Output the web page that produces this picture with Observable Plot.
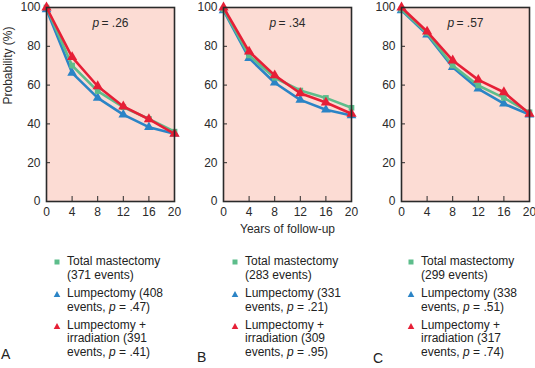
<!DOCTYPE html>
<html><head><meta charset="utf-8">
<script src="https://cdn.jsdelivr.net/npm/d3@7"></script>
<script src="https://cdn.jsdelivr.net/npm/@observablehq/plot@0.6"></script>
<style>
body{margin:0;background:#fff;font-family:"Liberation Sans",Arial,sans-serif;}
#wrap{position:relative;width:535px;height:368px;overflow:hidden;background:#fff}
.panel{position:absolute;top:0}
.legend{position:absolute;top:255px;font-size:12px;line-height:13.8px;color:#222}
.item{position:relative;margin-bottom:4.2px;white-space:nowrap}
.mk{position:absolute;left:-14px;top:3px}
.letter{position:absolute;font-size:14px;color:#222;line-height:14px}
</style></head><body><div id="wrap"></div>
<script>
// ---- data ----
const years = [0, 4, 8, 12, 16, 20];
const panelLetters = ["A", "B", "C"];
const panelP = [".26", ".34", ".57"];
const xTicks = [0, 4, 8, 12, 16, 20];
const yTicks = [0, 20, 40, 60, 80, 100];

const mastA = [100, 70.1, 56.9, 48.6, 42.6, 36.0];
const lumpA = [99, 66.3, 53.4, 44.8, 38.3, 34.9];
const irrA  = [100, 74.4, 59.4, 49.0, 42.4, 34.9];
const mastB = [99, 75.3, 63.8, 57.2, 53.4, 48.3];
const lumpB = [98.5, 73.9, 61.2, 52.4, 47.3, 44.3];
const irrB  = [100, 77.3, 65.0, 55.8, 51.0, 45.2];
const mastC = [99, 86.8, 70.1, 59.8, 53.4, 46.0];
const lumpC = [98.5, 86.0, 69.2, 58.1, 50.4, 44.8];
const irrC  = [100, 87.6, 72.7, 62.7, 56.3, 45.2];

const mastEvents = ["371", "283", "299"];
const lumpEvents = ["331", "331", "338"];
lumpEvents[0] = "408";
const irrEvents = ["391", "309", "317"];
const lumpP = [".47", ".21", ".51"];
const irrP = [".41", ".95", ".74"];

// ---- style ----
const green = "#5dbd8b", blue = "#2b84c6", red = "#e61f36", bg = "#fcdcd4", ink = "#2a2a2a";
const panelLeft = [0, 177, 355];
const legendLeft = [67, 245, 421];
const letterPos = [[1, 347], [197, 350], [373, 351]];

const mast = [mastA, mastB, mastC], lump = [lumpA, lumpB, lumpC], irr = [irrA, irrB, irrC];
const wrap = document.getElementById("wrap");

function rows(vals) { return years.map((yr, j) => ({year: yr, value: vals[j]})); }

for (let i = 0; i < 3; i++) {
  const sers = [
    {rows: rows(lump[i]), color: blue, symbol: "triangle", r: 3.6},
    {rows: rows(mast[i]), color: green, symbol: "square", r: 3.2},
    {rows: rows(irr[i]), color: red, symbol: "triangle", r: 3.8}
  ];
  const marks = [
    Plot.frame({fill: bg}),
    Plot.tickX(xTicks.slice(1, -1), {x: d => d, insetTop: 189, stroke: ink}),
    Plot.tickY(yTicks.slice(1, -1), {y: d => d, insetRight: 124, stroke: ink})
  ];
  for (const s of sers) {
    marks.push(Plot.line(s.rows, {x: "year", y: "value", stroke: s.color, strokeWidth: 2.6}));
    marks.push(Plot.dot(s.rows, {x: "year", y: "value", fill: s.color, symbol: s.symbol, r: s.r}));
  }
  marks.push(Plot.frame({stroke: ink, strokeWidth: 1.6}));
  marks.push(Plot.text(["p"], {text: d => d, frameAnchor: "top", dy: 11, dx: -18, textAnchor: "start", fontStyle: "italic", fill: ink}));
  marks.push(Plot.text(["= " + panelP[i]], {text: d => d, frameAnchor: "top", dy: 11, dx: -9, textAnchor: "start", fill: ink}));
  if (i === 0) marks.push(Plot.text(["Probability (%)"], {text: d => d, frameAnchor: "left", rotate: -90, dx: -38, fill: ink}));
  if (i === 1) marks.push(Plot.text(["Years of follow-up"], {text: d => d, frameAnchor: "bottom", dy: 31, fill: ink}));

  const chart = Plot.plot({
    width: 177, height: 240,
    marginLeft: 46, marginRight: 3, marginTop: 7, marginBottom: 39,
    style: {fontFamily: "'Liberation Sans', Arial, sans-serif", fontSize: "12px", color: ink, background: "transparent", overflow: "visible"},
    x: {domain: [0, 20], ticks: xTicks, tickSize: 0, tickPadding: 6, label: null},
    y: {domain: [0, 100], ticks: yTicks, tickSize: 0, tickPadding: 6, label: null},
    marks
  });
  const div = document.createElement("div");
  div.className = "panel";
  div.style.left = panelLeft[i] + "px";
  div.appendChild(chart);
  wrap.appendChild(div);

  const lg = document.createElement("div");
  lg.className = "legend";
  lg.style.left = legendLeft[i] + "px";
  const sq = `<svg class="mk" width="8" height="8"><rect x="1.5" y="1.5" width="5" height="5" fill="${green}"/></svg>`;
  const tri = c => `<svg class="mk" width="8" height="8"><path d="M4,1 L7.3,7 L0.7,7 Z" fill="${c}"/></svg>`;
  lg.innerHTML =
    `<div class="item">${sq}Total mastectomy<br>(${mastEvents[i]} events)</div>` +
    `<div class="item">${tri(blue)}Lumpectomy (${lumpEvents[i]}<br>events, <i>p</i> = ${lumpP[i]})</div>` +
    `<div class="item">${tri(red)}Lumpectomy +<br>irradiation (${irrEvents[i]}<br>events, <i>p</i> = ${irrP[i]})</div>`;
  wrap.appendChild(lg);

  const lt = document.createElement("div");
  lt.className = "letter";
  lt.style.left = letterPos[i][0] + "px";
  lt.style.top = letterPos[i][1] + "px";
  lt.textContent = panelLetters[i];
  wrap.appendChild(lt);
}
</script></body></html>
